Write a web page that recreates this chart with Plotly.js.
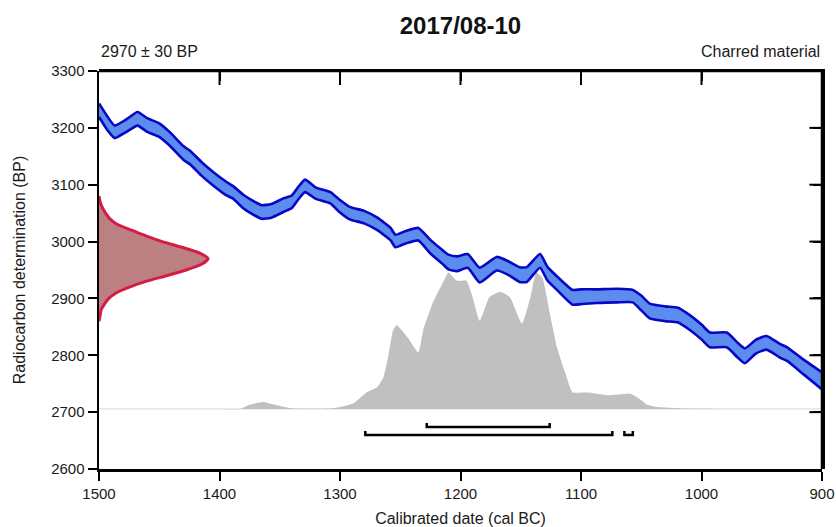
<!DOCTYPE html>
<html>
<head>
<meta charset="utf-8">
<script src="https://cdn.plot.ly/plotly-3.0.1.min.js"></script>
<style>
  html, body { margin: 0; padding: 0; background: #ffffff; }
  #chart { width: 836px; height: 527px; }
</style>
</head>
<body>
<div id="chart"></div>
<script>
// ---- Calibration curve (cal BC year, radiocarbon BP, 1-sigma BP) ----
var calYears = [1500, 1493, 1487, 1478, 1468, 1460, 1450, 1441, 1430, 1424, 1415, 1405, 1395, 1389, 1380, 1370, 1365, 1357, 1347, 1340, 1335, 1329, 1320, 1308, 1300, 1292, 1280, 1269, 1258, 1254, 1245, 1235, 1225, 1215, 1210, 1203, 1194, 1184, 1170, 1160, 1151, 1145, 1134, 1128, 1120, 1107, 1100, 1087, 1070, 1057, 1050, 1043, 1030, 1020, 1010, 1000, 993, 979, 970, 964, 955, 946, 935, 929, 915, 900];
var calBP    = [3231, 3208, 3193, 3203, 3216, 3205, 3196, 3180, 3156, 3147, 3128, 3110, 3094, 3087, 3070, 3057, 3052, 3054, 3064, 3070, 3084, 3098, 3085, 3077, 3062, 3050, 3043, 3031, 3013, 3001, 3008, 3013, 2991, 2973, 2964, 2961, 2966, 2941, 2961, 2953, 2942, 2942, 2966, 2944, 2927, 2902, 2903, 2904, 2905, 2904, 2892, 2878, 2873, 2871, 2858, 2841, 2827, 2827, 2809, 2799, 2815, 2822, 2808, 2802, 2779, 2755];
var calSigma = [12, 12, 11, 11, 12, 12, 12, 12, 12, 12, 12, 12, 12, 11, 12, 12, 12, 12, 12, 11, 11, 11, 10, 10, 11, 11, 11, 11, 11, 11, 11, 11, 12, 12, 13, 13, 12, 13, 12, 12, 13, 13, 12, 12, 12, 13, 13, 12, 12, 11, 13, 13, 13, 13, 13, 13, 13, 13, 13, 13, 12, 12, 12, 12, 13, 15];

// ---- Radiocarbon measurement 2970 ± 30 BP (relative probability) ----
var measBP   = [3080, 3070, 3060, 3050, 3040, 3030, 3020, 3010, 3000, 2990, 2980, 2970, 2960, 2950, 2940, 2930, 2920, 2910, 2900, 2890, 2880, 2870, 2860];
var measProb = [0.0, 0.01, 0.03, 0.06, 0.10, 0.17, 0.30, 0.43, 0.58, 0.76, 0.92, 1.0, 0.94, 0.80, 0.62, 0.43, 0.28, 0.16, 0.09, 0.05, 0.02, 0.01, 0.0];

// ---- Calibrated distribution (cal BC year, relative probability) ----
var postYears = [1500, 1400, 1383, 1375, 1364, 1354, 1341, 1306, 1289, 1278, 1269, 1264, 1260, 1256, 1253, 1244, 1235, 1231, 1223, 1215, 1210, 1203, 1195, 1190, 1184, 1176, 1167, 1159, 1149, 1142, 1137, 1132, 1126, 1120, 1113, 1107, 1098, 1093, 1078, 1059, 1051, 1045, 1037, 1010, 985, 900];
var postProb  = [0, 0, 0, 0.03, 0.05, 0.03, 0.005, 0.005, 0.04, 0.12, 0.16, 0.23, 0.38, 0.57, 0.61, 0.52, 0.41, 0.57, 0.77, 0.91, 0.99, 0.93, 0.93, 0.81, 0.64, 0.81, 0.85, 0.81, 0.62, 0.81, 0.99, 0.95, 0.70, 0.45, 0.26, 0.12, 0.12, 0.12, 0.10, 0.11, 0.07, 0.03, 0.015, 0.003, 0, 0];

// ---- Calibrated ranges (cal BC) ----
var range68Start = [1228];
var range68End   = [1126];
var range95Start = [1279, 1064];
var range95End   = [1074, 1057];

// ---- Tick values for the inner ticks of the top and right frame ----
var frameXTicks = [1400, 1300, 1200, 1100, 1000];
var frameYTicks = [2700, 2800, 2900, 3000, 3100, 3200];

// ---- Texts ----
var chartTitle = '2017/08-10';
var labelMeasurement = '2970 ± 30 BP';
var labelMaterial = 'Charred material';
var xTitle = 'Calibrated date (cal BC)';
var yTitle = 'Radiocarbon determination (BP)';

// ---- Styles / positions ----
var FONT = 'Liberation Sans, Arial, Helvetica, sans-serif';
var xRange = [1500, 900], yRange = [2600, 3300];
var probBottom = -0.4356, probTop = 2.452;   // main hidden probability axis
var measMaxX = 6.633;                         // hidden axis for measurement curve width
var level68 = 2674, level95 = 2660, tickUp = 7;

var upper = calBP.map(function (v, i) { return v + calSigma[i]; });
var lower = calBP.map(function (v, i) { return v - calSigma[i]; });

function bracketTrace(starts, ends, level) {
  var xs = [], ys = [];
  for (var i = 0; i < starts.length; i++) {
    xs.push(starts[i], starts[i], ends[i], ends[i], null);
    ys.push(level + tickUp, level, level, level + tickUp, null);
  }
  return { x: xs, y: ys, xaxis: 'x3', yaxis: 'y3', type: 'scatter', mode: 'lines',
           line: { color: '#000000', width: 2.5 }, showlegend: false, hoverinfo: 'skip' };
}

var bandLine = { color: 'rgb(8,8,196)', width: 2.6, shape: 'spline', smoothing: 0.5 };

var traces = [
  // calibrated probability (main subplot => lowest layer)
  { x: postYears, y: postProb, xaxis: 'x', yaxis: 'y', type: 'scatter', mode: 'lines',
    fill: 'tozeroy', fillcolor: 'rgb(192,192,192)', line: { width: 0, color: 'rgb(192,192,192)', shape: 'spline', smoothing: 0.5 },
    showlegend: false, hoverinfo: 'skip' },
  // calibration curve band
  { x: calYears, y: upper, xaxis: 'x', yaxis: 'y2', type: 'scatter', mode: 'lines',
    line: bandLine, showlegend: false, hoverinfo: 'skip' },
  { x: calYears, y: lower, xaxis: 'x', yaxis: 'y2', type: 'scatter', mode: 'lines',
    fill: 'tonexty', fillcolor: 'rgb(92,140,238)',
    line: bandLine, showlegend: false, hoverinfo: 'skip' },
  // measurement distribution
  { x: measProb, y: measBP, xaxis: 'x2', yaxis: 'y2', type: 'scatter', mode: 'lines',
    fill: 'tozerox', fillcolor: 'rgb(188,128,130)',
    line: { color: 'rgb(214,28,68)', width: 3, shape: 'spline', smoothing: 0.6 },
    showlegend: false, hoverinfo: 'skip' },
  bracketTrace(range68Start, range68End, level68),
  bracketTrace(range95Start, range95End, level95),
  // inward ticks on the top frame: markers centred on the top edge, clipped to the plot area
  { x: frameXTicks, y: frameXTicks.map(function () { return yRange[1]; }), xaxis: 'x', yaxis: 'y2',
    type: 'scatter', mode: 'markers', cliponaxis: true,
    marker: { symbol: 'line-ns', size: 20, color: '#000000', line: { color: '#000000', width: 2 } },
    showlegend: false, hoverinfo: 'skip' },
  // inward ticks on the right frame
  { x: frameYTicks.map(function () { return xRange[1]; }), y: frameYTicks, xaxis: 'x', yaxis: 'y2',
    type: 'scatter', mode: 'markers', cliponaxis: true,
    marker: { symbol: 'line-ew', size: 18, color: '#000000', line: { color: '#000000', width: 2 } },
    showlegend: false, hoverinfo: 'skip' }
];

var axisCommon = { showgrid: false, zeroline: false, linecolor: '#000000', linewidth: 2.5,
                   tickcolor: '#000000', tickwidth: 2, fixedrange: true };

var layout = {
  width: 836, height: 527,
  margin: { l: 99, r: 14, t: 71, b: 58, pad: 0 },
  paper_bgcolor: '#ffffff', plot_bgcolor: 'rgba(0,0,0,0)',
  font: { family: FONT, color: '#1a1a1a', size: 15 },
  showlegend: false,
  title: { text: '<b>' + chartTitle + '</b>', font: { family: FONT, size: 24, color: '#111111' },
           x: 0.5, xref: 'paper', xanchor: 'center', y: 1 - 26 / 527, yref: 'container', yanchor: 'middle' },
  xaxis: Object.assign({}, axisCommon, {
    domain: [0, 1], range: xRange, tickmode: 'linear', tick0: 900, dtick: 100,
    ticks: 'outside', ticklen: 9, showline: true, tickfont: { size: 15, family: FONT },
    title: { text: xTitle, font: { size: 16, family: FONT }, standoff: 13 },
    anchor: 'y'
  }),
  yaxis: { domain: [0, 1], range: [probBottom, probTop], visible: false, showgrid: false, zeroline: false, fixedrange: true },
  yaxis2: Object.assign({}, axisCommon, {
    overlaying: 'y', side: 'left', anchor: 'x',
    range: yRange, tickmode: 'linear', tick0: 2600, dtick: 100,
    ticks: 'outside', ticklen: 9, showline: true, tickfont: { size: 15, family: FONT },
    title: { text: yTitle, font: { size: 16, family: FONT }, standoff: 22 }
  }),
  xaxis2: { overlaying: 'x', range: [0, measMaxX], visible: false, showgrid: false, zeroline: false, fixedrange: true },
  xaxis3: Object.assign({}, axisCommon, {
    domain: [0, 1], anchor: 'y3', side: 'top',
    range: xRange, tickmode: 'linear', tick0: 900, dtick: 100,
    ticks: 'inside', ticklen: 10, showline: true, showticklabels: false
  }),
  yaxis3: Object.assign({}, axisCommon, {
    domain: [0, 1], anchor: 'x3', side: 'right',
    range: yRange, tickmode: 'linear', tick0: 2600, dtick: 100,
    ticks: 'inside', ticklen: 9, showline: true, showticklabels: false
  }),
  shapes: [
    { type: 'line', xref: 'paper', yref: 'y', x0: 0, x1: 1, y0: 0, y1: 0, layer: 'below',
      line: { color: 'rgb(215,215,215)', width: 1 } },
    { type: 'line', xref: 'paper', yref: 'paper', x0: 0, x1: 1, y0: 1, y1: 1, layer: 'above',
      line: { color: '#000000', width: 2.5 } },
    { type: 'line', xref: 'paper', yref: 'paper', x0: 1, x1: 1, y0: 0, y1: 1, layer: 'above',
      line: { color: '#000000', width: 2.5 } }
  ],
  annotations: [
    { text: labelMeasurement, xref: 'paper', yref: 'paper', x: 0, y: 1 + 19.5 / 398,
      xanchor: 'left', yanchor: 'middle', showarrow: false, font: { size: 16, family: FONT, color: '#1a1a1a' } },
    { text: labelMaterial, xref: 'paper', yref: 'paper', x: 1, y: 1 + 19.5 / 398,
      xanchor: 'right', yanchor: 'middle', showarrow: false, font: { size: 16, family: FONT, color: '#1a1a1a' } }
  ]
};

Plotly.newPlot('chart', traces, layout, { staticPlot: true, displayModeBar: false });
</script>
</body>
</html>
